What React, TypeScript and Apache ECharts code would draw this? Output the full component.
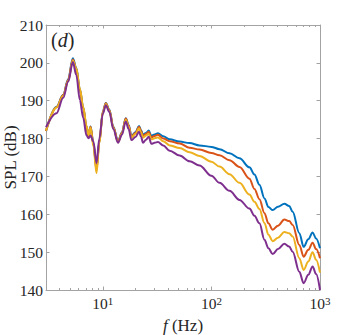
import React, { useEffect, useRef } from 'react';
import * as echarts from 'echarts';

const FREQ = [3, 3.75, 4.32, 4.8, 5.3, 5.7, 6.15, 6.6, 7.08, 7.4, 7.71, 8.2, 8.75, 9.3, 10, 10.66, 11.5, 12.5, 13.82, 15, 16.27, 17.3, 18.35, 20, 21.56, 22.5, 23.46, 25, 26.46, 28.02, 30, 32.2, 36, 41.3, 51, 63, 77.8, 100, 118.8, 146.8, 181.4, 224, 249, 277, 308, 335, 367, 410, 470, 520, 560, 645, 707, 780, 855, 920, 1000];

const SPL_BLUE = [182.0, 188.4, 191.6, 195.7, 201.2, 198.7, 193.0, 188.2, 183.2, 180.6, 183.2, 178.7, 172.2, 179.2, 187.1, 189.4, 187.6, 183.1, 179.3, 181.6, 185.4, 183.6, 180.7, 181.7, 183.3, 182.2, 181.0, 181.5, 182.1, 180.7, 181.1, 181.4, 180.6, 179.8, 179.2, 178.8, 178.2, 177.8, 177.2, 176.1, 174.8, 172.4, 170.5, 167.8, 164.2, 161.9, 161.1, 162.0, 162.8, 162.2, 160.7, 155.0, 151.4, 153.4, 155.2, 153.6, 151.0];

const SPL_ORANGE = [182.0, 188.3, 191.5, 195.5, 200.9, 198.4, 192.8, 188.0, 183.1, 180.5, 183.1, 178.5, 171.7, 179.0, 187.0, 189.3, 187.5, 183.0, 179.2, 181.5, 185.3, 183.5, 180.5, 181.5, 183.1, 182.0, 180.7, 181.2, 181.8, 180.3, 180.7, 181.0, 180.0, 179.3, 178.7, 177.6, 177.1, 176.2, 175.6, 174.3, 172.5, 169.4, 166.7, 164.0, 160.3, 157.6, 155.9, 157.0, 158.6, 158.2, 157.2, 151.9, 148.8, 150.6, 152.5, 150.8, 148.4];

const SPL_YELLOW = [182.1, 188.2, 191.3, 195.2, 200.6, 198.6, 193.2, 188.4, 183.4, 180.8, 182.9, 178.0, 170.9, 178.8, 186.9, 189.1, 187.3, 182.8, 179.0, 181.3, 185.0, 183.2, 180.2, 181.2, 182.7, 181.6, 180.2, 180.8, 181.3, 179.8, 180.1, 180.3, 179.3, 178.2, 177.5, 176.4, 175.4, 173.9, 172.6, 170.6, 168.3, 165.2, 163.3, 161.4, 157.7, 154.6, 152.9, 153.8, 155.3, 155.0, 154.1, 148.4, 145.3, 147.5, 150.0, 148.0, 144.6];

const SPL_PURPLE = [183.0, 186.7, 190.8, 195.0, 200.2, 196.8, 190.2, 185.5, 180.8, 180.1, 180.8, 179.2, 173.5, 180.0, 186.5, 188.8, 187.0, 182.5, 178.9, 181.0, 184.5, 182.5, 179.6, 180.4, 181.8, 180.5, 178.9, 179.7, 180.5, 178.6, 178.9, 179.1, 178.2, 176.8, 175.5, 174.0, 172.9, 170.2, 168.3, 166.2, 163.8, 161.5, 159.6, 157.6, 153.3, 151.0, 149.5, 150.8, 152.2, 151.5, 150.1, 144.8, 141.8, 144.0, 146.2, 144.2, 140.0];

const SERIES_NAMES = ['blue', 'orange', 'yellow', 'purple'];
const SERIES_COLORS = ['#0072BD', '#D95319', '#EDB120', '#7E2F8E'];
const SERIES_VALUES = [SPL_BLUE, SPL_ORANGE, SPL_YELLOW, SPL_PURPLE];

const X_MIN = 3;
const X_MAX = 1000;
const X_MAJOR = [10, 100, 1000];
const X_MINOR = [3, 4, 5, 6, 7, 8, 9, 20, 30, 40, 50, 60, 70, 80, 90, 200, 300, 400, 500, 600, 700, 800, 900];
const Y_MIN = 140;
const Y_MAX = 210;
const Y_STEP = 10;

export default function App() {
  const ref = useRef<HTMLDivElement>(null);
  useEffect(() => {
    const chart = echarts.init(ref.current as HTMLDivElement, null, { renderer: 'svg' });
    const lg = Math.log10;
    const axisColor = '#a3a3a3';
    const textColor = '#262626';
    const font = 'Liberation Serif';
    const gridRect = { left: 46, right: 34, top: 25, bottom: 45, outerBoundsMode: 'none' };

    const xCommon = {
      type: 'value',
      min: lg(X_MIN),
      max: lg(X_MAX),
      splitLine: { show: false },
      axisLine: { show: true, lineStyle: { color: axisColor, width: 1 } },
    };

    const option: any = {
      animation: false,
      backgroundColor: '#ffffff',
      grid: [
        { ...gridRect },
        { ...gridRect },
      ],
      xAxis: [
        {
          ...xCommon,
          gridIndex: 0,
          position: 'bottom',
          axisTick: { show: true, inside: true, length: 3.5, customValues: X_MAJOR.map(lg), lineStyle: { color: axisColor } },
          axisLabel: {
            show: true,
            margin: 5,
            customValues: X_MAJOR.map(lg),
            formatter: (v: number) => `{a|10}{s|${Math.round(v)}}`,
            rich: {
              a: { fontFamily: font, fontSize: 15.5, color: textColor, lineHeight: 16, padding: [5, 0, 0, 0], verticalAlign: 'bottom' },
              s: { fontFamily: font, fontSize: 11, color: textColor, lineHeight: 11, verticalAlign: 'top' },
            },
          },
          name: '{i|f} (Hz)',
          nameLocation: 'middle',
          nameGap: 27,
          nameMoveOverlap: false,
          nameTextStyle: {
            fontFamily: font,
            fontSize: 17,
            color: textColor,
            rich: { i: { fontFamily: font, fontSize: 17, fontStyle: 'italic', color: textColor } },
          },
        },
        {
          ...xCommon,
          gridIndex: 0,
          position: 'top',
          axisTick: { show: true, inside: true, length: 3.5, customValues: X_MAJOR.map(lg), lineStyle: { color: axisColor } },
          axisLabel: { show: false },
        },
        {
          ...xCommon,
          gridIndex: 1,
          position: 'bottom',
          axisLine: { show: false },
          axisTick: { show: true, inside: true, length: 2, customValues: X_MINOR.map(lg), lineStyle: { color: axisColor } },
          axisLabel: { show: false },
        },
        {
          ...xCommon,
          gridIndex: 1,
          position: 'top',
          axisLine: { show: false },
          axisTick: { show: true, inside: true, length: 2, customValues: X_MINOR.map(lg), lineStyle: { color: axisColor } },
          axisLabel: { show: false },
        },
      ],
      yAxis: [
        {
          type: 'value',
          gridIndex: 0,
          position: 'left',
          min: Y_MIN,
          max: Y_MAX,
          interval: Y_STEP,
          splitLine: { show: false },
          axisLine: { show: true, lineStyle: { color: axisColor, width: 1 } },
          axisTick: { show: true, inside: true, length: 3.5, lineStyle: { color: axisColor } },
          axisLabel: { show: true, margin: 3, fontFamily: font, fontSize: 15.5, color: textColor },
          name: 'SPL (dB)',
          nameLocation: 'middle',
          nameGap: 27,
          nameMoveOverlap: false,
          nameTextStyle: { fontFamily: font, fontSize: 17, color: textColor },
        },
        {
          type: 'value',
          gridIndex: 0,
          position: 'right',
          min: Y_MIN,
          max: Y_MAX,
          interval: Y_STEP,
          splitLine: { show: false },
          axisLine: { show: true, lineStyle: { color: axisColor, width: 1 } },
          axisTick: { show: true, inside: true, length: 3.5, lineStyle: { color: axisColor } },
          axisLabel: { show: false },
        },
        {
          type: 'value',
          gridIndex: 1,
          show: false,
          min: Y_MIN,
          max: Y_MAX,
        },
      ],
      graphic: [
        {
          type: 'text',
          left: 51,
          top: 30,
          z: 100,
          style: {
            text: '{p|(}{i|d}{p|)}',
            rich: {
              p: { fontFamily: font, fontSize: 20, fill: textColor },
              i: { fontFamily: font, fontSize: 20, fontStyle: 'italic', fill: textColor },
            },
          },
        },
      ],
      series: SERIES_NAMES.map((name, k) => ({
        name,
        type: 'line',
        xAxisIndex: 0,
        yAxisIndex: 0,
        showSymbol: false,
        symbol: 'none',
        smooth: 0.35,
        smoothMonotone: 'x',
        clip: true,
        lineStyle: { color: SERIES_COLORS[k], width: 2 },
        itemStyle: { color: SERIES_COLORS[k] },
        data: FREQ.map((f, i) => [lg(f), SERIES_VALUES[k][i]]),
      })),
    };

    chart.setOption(option);
    return () => {
      chart.dispose();
    };
  }, []);

  return <div ref={ref} style={{ position: 'fixed', left: 0, top: 0, width: 354, height: 335 }} />;
}
